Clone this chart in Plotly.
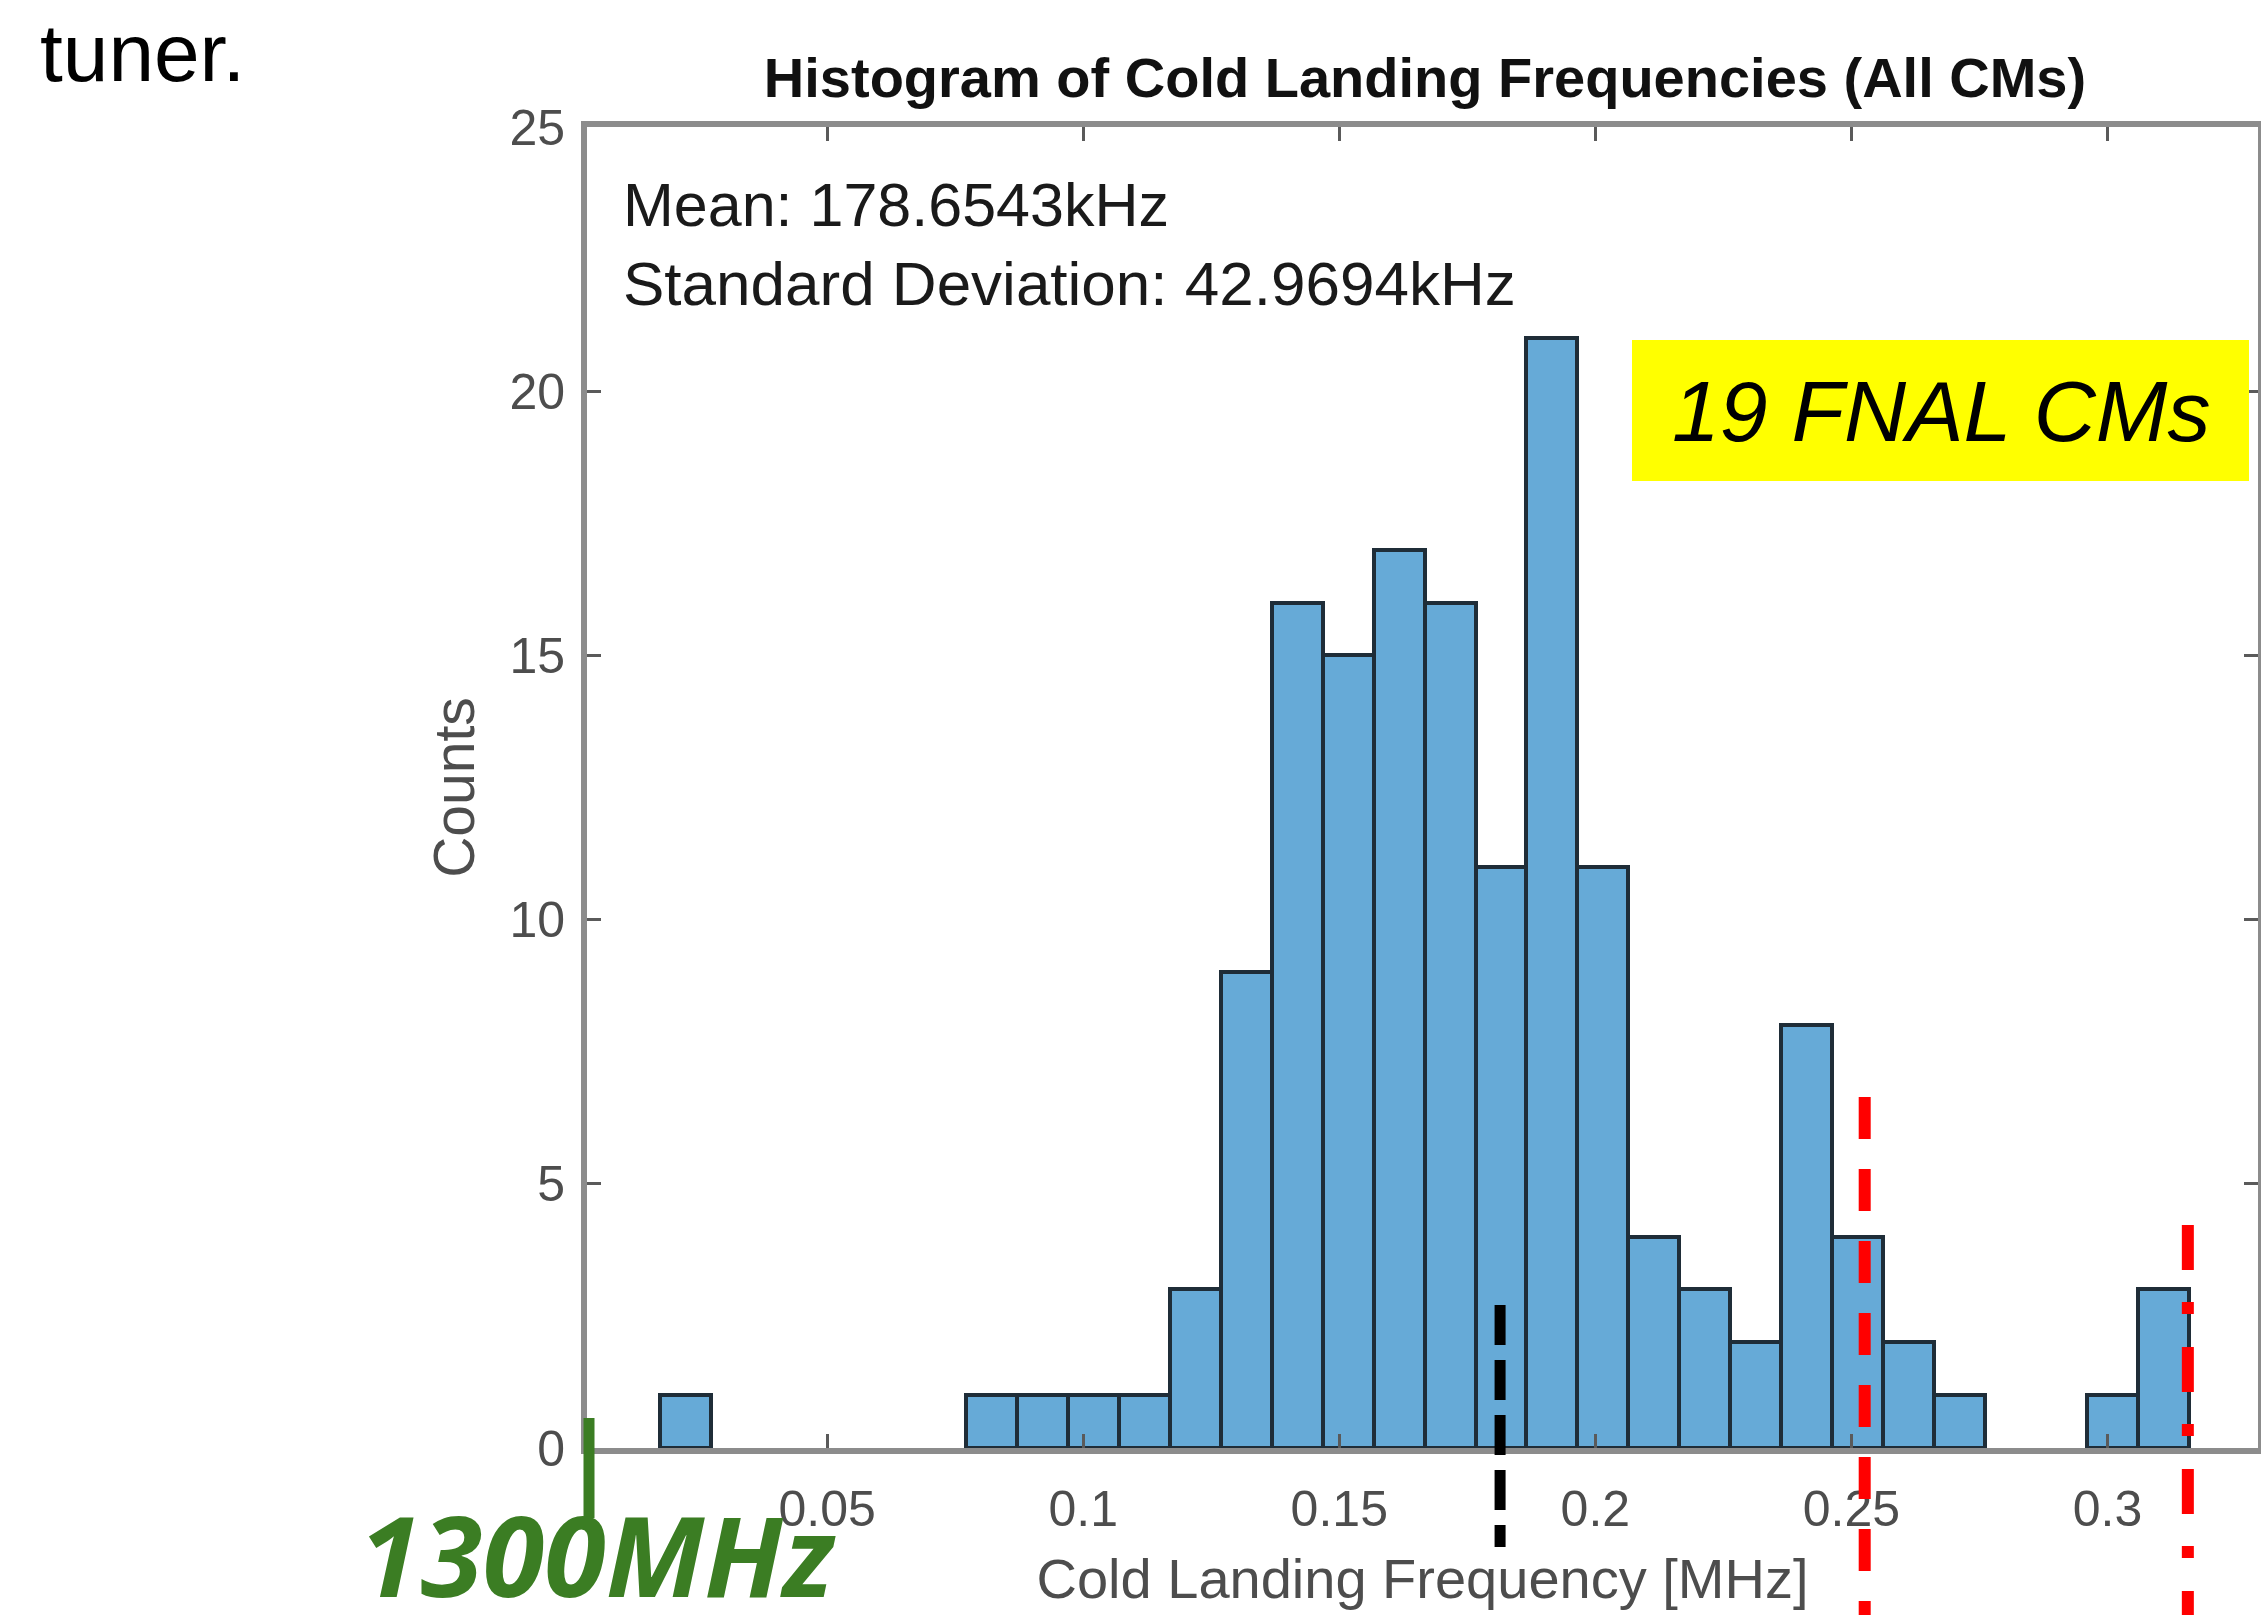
import plotly.graph_objects as go

# ---------------- data ----------------
bin_start = 0.0174          # MHz, left edge of first bin
bin_width = 0.00995         # MHz
counts = [1, 0, 0, 0, 0, 0, 1, 1, 1, 1, 3, 9, 16, 15, 17, 16, 11, 21, 11,
          4, 3, 2, 8, 4, 2, 1, 0, 0, 1, 3]

x_tick_vals = [0.05, 0.1, 0.15, 0.2, 0.25, 0.3]
x_tick_text = ["0.05", "0.1", "0.15", "0.2", "0.25", "0.3"]
y_tick_vals = [0, 5, 10, 15, 20, 25]
y_tick_text = ["0", "5", "10", "15", "20", "25"]
x_range = [0.0031, 0.3294]
y_range = [0, 25]

mean_line_x = 0.1814
red_dashed_x = 0.2526
red_dashdot_x = 0.3157

title_text = "Histogram of Cold Landing Frequencies (All CMs)"
x_title = "Cold Landing Frequency [MHz]"
y_title = "Counts"
mean_text = "Mean: 178.6543kHz"
std_text = "Standard Deviation: 42.9694kHz"
box_text = "19 FNAL CMs"
freq_text = "1300MHz"
top_text = "tuner."

# ---------------- layout helpers ----------------
W, H = 2261, 1615
L, R, T, B = 587, 2258, 127, 1448


def pp(x, y):
    """pixel -> paper coordinates"""
    return (x - L) / (R - L), (B - y) / (B - T)


centers = [bin_start + (i + 0.5) * bin_width for i, c in enumerate(counts) if c > 0]
heights = [c for c in counts if c > 0]

FONT = "Liberation Sans, Arial, Helvetica, sans-serif"
GRAY = "#4d4d4d"

fig = go.Figure()
fig.add_trace(go.Bar(
    x=centers, y=heights, width=bin_width,
    marker=dict(color="#66aad7", line=dict(color="#1f2d38", width=4)),
    hoverinfo="x+y",
))

axis_common = dict(
    showline=True, linecolor="#8c8c8c", linewidth=6, mirror="ticks",
    ticks="inside", ticklen=14, tickwidth=3, tickcolor="#5a5a5a",
    showgrid=False, zeroline=False, automargin=False,
    tickfont=dict(family=FONT, size=50, color=GRAY),
)

fig.update_xaxes(
    range=x_range, tickvals=x_tick_vals, ticktext=x_tick_text,
    title=dict(text=x_title, font=dict(family=FONT, size=56, color=GRAY), standoff=25),
    ticklabelstandoff=12,
    **axis_common,
)
fig.update_yaxes(
    range=y_range, tickvals=y_tick_vals, ticktext=y_tick_text,
    title=dict(text=y_title, font=dict(family=FONT, size=57, color=GRAY), standoff=18),
    ticklabelstandoff=6,
    **axis_common,
)

shapes = []
# yellow box
bx0, by0 = pp(1632, 481)
bx1, by1 = pp(2249, 340)
shapes.append(dict(type="rect", xref="paper", yref="paper", x0=bx0, x1=bx1, y0=by0, y1=by1,
                   fillcolor="#ffff00", line=dict(width=0), layer="above"))
# mean line (black dashed)
shapes.append(dict(type="line", xref="x", yref="paper", x0=mean_line_x, x1=mean_line_x,
                   y0=pp(0, 1305)[1], y1=pp(0, 1547)[1],
                   line=dict(color="#000000", width=11, dash="40px,15px"), layer="above"))
# red dashed
shapes.append(dict(type="line", xref="x", yref="paper", x0=red_dashed_x, x1=red_dashed_x,
                   y0=pp(0, 1097)[1], y1=pp(0, 1625)[1],
                   line=dict(color="#ff0000", width=12, dash="42px,30px"), layer="above"))
# red dash-dot
shapes.append(dict(type="line", xref="x", yref="paper", x0=red_dashdot_x, x1=red_dashdot_x,
                   y0=pp(0, 1225)[1], y1=pp(0, 1625)[1],
                   line=dict(color="#ff0000", width=12, dash="45px,32px,12px,33px"), layer="above"))
# green marker line at left
shapes.append(dict(type="line", xref="paper", yref="paper", x0=pp(589, 0)[0], x1=pp(589, 0)[0],
                   y0=pp(0, 1418)[1], y1=pp(0, 1518)[1],
                   line=dict(color="#3b7d23", width=11), layer="above"))

annotations = []


def ann(text, x, y, xanchor, size, color, family=FONT, weight="normal", style="normal"):
    px_, py_ = pp(x, y)
    annotations.append(dict(text=text, x=px_, y=py_, xref="paper", yref="paper",
                            xanchor=xanchor, yanchor="middle", showarrow=False,
                            font=dict(family=family, size=size, color=color,
                                      weight=weight, style=style)))


ann(mean_text, 621, 205, "left", 61, "#1a1a1a")
ann(std_text, 621, 284, "left", 62, "#1a1a1a")
ann(box_text, 1941, 411, "center", 86, "#000000", style="italic")
ann(freq_text, 597, 1553, "center", 112, "#3b7d23", family="Open Sans, Noto Sans, sans-serif",
    weight="bold", style="italic")
ann(top_text, 38, 53, "left", 82, "#000000")

fig.update_layout(
    width=W, height=H,
    margin=dict(l=L, r=W - R, t=T, b=H - B),
    plot_bgcolor="white", paper_bgcolor="white",
    showlegend=False, bargap=0,
    title=dict(text="<b>" + title_text + "</b>", x=1425 / W, xanchor="center",
               y=1 - 77 / H, yanchor="middle", xref="container", yref="container",
               font=dict(family=FONT, size=56, color="#111111")),
    shapes=shapes, annotations=annotations,
)

fig.write_html("out.html",
               config={"displayModeBar": False},
               post_script="document.body.style.margin='0';document.body.style.overflow='hidden';")
